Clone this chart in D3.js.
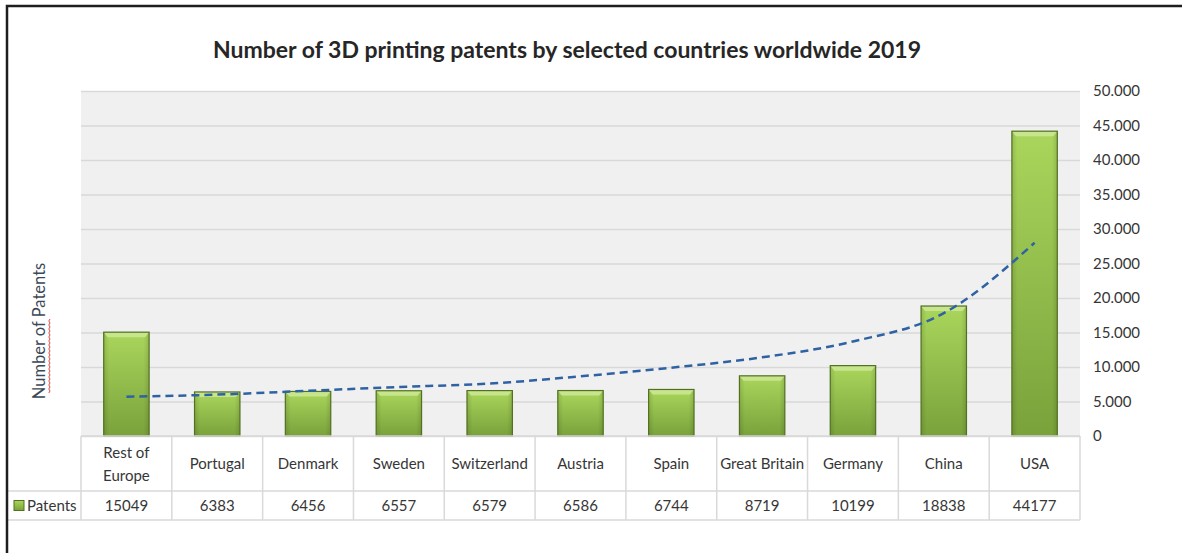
<!DOCTYPE html>
<html>
<head>
<meta charset="utf-8">
<script src="https://cdn.jsdelivr.net/npm/d3@7"></script>
<style>
  body { margin: 0; background: #fff; }
  svg { display: block; }
  text { font-family: Lato, "Open Sans", "Liberation Sans", sans-serif; }
</style>
</head>
<body>
<svg id="chart" width="1182" height="553"></svg>
<script>
// Patent counts per country (2019)
const countries = ["Rest of Europe", "Portugal", "Denmark", "Sweden", "Switzerland", "Austria",
                   "Spain", "Great Britain", "Germany", "China", "USA"];
const headerLines = [["Rest of", "Europe"], ["Portugal"], ["Denmark"], ["Sweden"], ["Switzerland"],
                     ["Austria"], ["Spain"], ["Great Britain"], ["Germany"], ["China"], ["USA"]];
const patents = [15049, 6383, 6456, 6557, 6579, 6586, 6744, 8719, 10199, 18838, 44177];
// Trendline level at each category
const trend = [5700, 6000, 6550, 7100, 7600, 8650, 9900, 11400, 13700, 17800, 28000];
const yTicks = [0, 5000, 10000, 15000, 20000, 25000, 30000, 35000, 40000, 45000, 50000];
const seriesName = "Patents";
const titleText = "Number of 3D printing patents by selected countries worldwide 2019";
const yTitle = "Number of Patents";

const svg = d3.select("#chart");
const W = 1182, H = 553;
const plot = { left: 81, right: 1080, top: 91, bottom: 436 };
const table = { headerBottom: 491, rowBottom: 520, left: 8 };
const textColor = "#363636";

const x = d3.scaleBand().domain(countries).range([plot.left, plot.right])
  .paddingInner(0.5).paddingOuter(0.25);
const y = d3.scaleLinear().domain([0, 50000]).range([plot.bottom, plot.top]);
const step = x.step(), bw = x.bandwidth();
const colLeft = c => x(c) - (step - bw) / 2;

const locale = d3.formatLocale({ decimal: ",", thousands: ".", grouping: [3], currency: ["", ""] });
const fmt = locale.format(",");

// gradients
const defs = svg.append("defs");
const g1 = defs.append("linearGradient").attr("id", "barFill").attr("x1", 0).attr("y1", 0).attr("x2", 0).attr("y2", 1);
g1.append("stop").attr("offset", "0%").attr("stop-color", "#aad65c");
g1.append("stop").attr("offset", "100%").attr("stop-color", "#79a23b");
const g2 = defs.append("linearGradient").attr("id", "barSide").attr("x1", 0).attr("y1", 0).attr("x2", 1).attr("y2", 0);
g2.append("stop").attr("offset", "0%").attr("stop-color", "#000").attr("stop-opacity", 0.12);
g2.append("stop").attr("offset", "12%").attr("stop-color", "#000").attr("stop-opacity", 0);
g2.append("stop").attr("offset", "88%").attr("stop-color", "#000").attr("stop-opacity", 0);
g2.append("stop").attr("offset", "100%").attr("stop-color", "#000").attr("stop-opacity", 0.12);

// plot background
svg.append("rect").attr("x", plot.left).attr("y", plot.top)
  .attr("width", plot.right - plot.left).attr("height", plot.bottom - plot.top)
  .attr("fill", "#f0f0f0");

// gridlines
const grid = svg.append("g").attr("transform", `translate(${plot.left},0)`)
  .call(d3.axisLeft(y).tickValues(yTicks).tickSize(-(plot.right - plot.left)).tickFormat(""));
grid.select(".domain").remove();
grid.selectAll("line").attr("stroke", "#d9d9d9").attr("stroke-width", 1.5);

// y axis on the right
const yAxis = svg.append("g").attr("transform", `translate(${plot.right},0)`)
  .call(d3.axisRight(y).tickValues(yTicks).tickSize(0).tickPadding(13).tickFormat(fmt));
yAxis.select(".domain").remove();
yAxis.selectAll("text").attr("fill", textColor).style("font-size", "15px")
  .style("font-family", "Lato, 'Open Sans', sans-serif");

// bars
const bars = svg.append("g");
countries.forEach((c, i) => {
  const x0 = x(c), y0 = y(patents[i]), h = y(0) - y0;
  bars.append("rect").attr("x", x0).attr("y", y0).attr("width", bw).attr("height", h)
    .attr("fill", "url(#barFill)");
  bars.append("rect").attr("x", x0).attr("y", y0).attr("width", bw).attr("height", h)
    .attr("fill", "url(#barSide)");
  // bevelled top edge
  bars.append("polygon")
    .attr("points", `${x0},${y0} ${x0 + bw},${y0} ${x0 + bw - 4},${y0 + 5} ${x0 + 4},${y0 + 5}`)
    .attr("fill", "#c8e690").attr("opacity", 0.95);
  bars.append("rect").attr("x", x0).attr("y", y0).attr("width", bw).attr("height", h)
    .attr("fill", "none").attr("stroke", "#52701f").attr("stroke-width", 1.2);
});

// trendline
const line = d3.line()
  .x((d, i) => x(countries[i]) + bw / 2)
  .y(d => y(d))
  .curve(d3.curveMonotoneX);
svg.append("path").datum(trend).attr("d", line)
  .attr("fill", "none").attr("stroke", "#2f62a3").attr("stroke-width", 2.5)
  .attr("stroke-dasharray", "8,5");

// data table
const tbl = svg.append("g");
const gridColor = "#d9d9d9";
tbl.append("line").attr("x1", plot.left).attr("x2", plot.right)
  .attr("y1", plot.bottom).attr("y2", plot.bottom).attr("stroke", gridColor).attr("stroke-width", 1.5);
[table.headerBottom, table.rowBottom].forEach(yy => {
  tbl.append("line").attr("x1", table.left).attr("x2", plot.right)
    .attr("y1", yy).attr("y2", yy).attr("stroke", gridColor).attr("stroke-width", 1.5);
});
countries.forEach(c => {
  tbl.append("line").attr("x1", colLeft(c)).attr("x2", colLeft(c))
    .attr("y1", plot.bottom).attr("y2", table.rowBottom).attr("stroke", gridColor).attr("stroke-width", 1.5);
});
tbl.append("line").attr("x1", plot.right).attr("x2", plot.right)
  .attr("y1", plot.bottom).attr("y2", table.rowBottom).attr("stroke", gridColor).attr("stroke-width", 1.5);

countries.forEach((c, i) => {
  const cx = x(c) + bw / 2;
  const lines = headerLines[i];
  const midY = (plot.bottom + table.headerBottom) / 2;
  const lh = 23;
  lines.forEach((t, k) => {
    tbl.append("text").attr("x", cx)
      .attr("y", midY + (k - (lines.length - 1) / 2) * lh + 5.5)
      .attr("text-anchor", "middle").attr("fill", textColor).style("font-size", "15px").text(t);
  });
  tbl.append("text").attr("x", cx).attr("y", (table.headerBottom + table.rowBottom) / 2 + 5.5)
    .attr("text-anchor", "middle").attr("fill", textColor).style("font-size", "15px")
    .text(patents[i]);
});

// legend key in table
const keyY = (table.headerBottom + table.rowBottom) / 2;
tbl.append("rect").attr("x", 14).attr("y", keyY - 5).attr("width", 10).attr("height", 10)
  .attr("fill", "url(#barFill)").attr("stroke", "#52701f").attr("stroke-width", 1);
tbl.append("text").attr("x", 27).attr("y", keyY + 5.5).attr("fill", textColor)
  .style("font-size", "15px").text(seriesName);

// title
svg.append("text").attr("x", 567).attr("y", 58).attr("text-anchor", "middle")
  .attr("fill", "#262626").style("font-size", "23px").style("font-weight", "bold")
  .attr("textLength", 708).attr("lengthAdjust", "spacingAndGlyphs")
  .text(titleText);

// y axis title
const yt = svg.append("g").attr("transform", "translate(45,331) rotate(-90)");
yt.append("text").attr("text-anchor", "middle").attr("fill", "#3b4858")
  .style("font-size", "16.5px").text(yTitle);
// spell-check squiggle under the first words
const sq = d3.range(0, 76, 2).map((d, i) => [-62 + d, 3.8 + (i % 2 ? 1.2 : 0)]);
yt.append("path").attr("d", d3.line()(sq)).attr("fill", "none")
  .attr("stroke", "#e0302a").attr("stroke-width", 0.9);

// frame
svg.append("path").attr("d", `M7,${H} V6 H${W}`).attr("fill", "none")
  .attr("stroke", "#1e1e1e").attr("stroke-width", 2.5);
</script>
</body>
</html>
